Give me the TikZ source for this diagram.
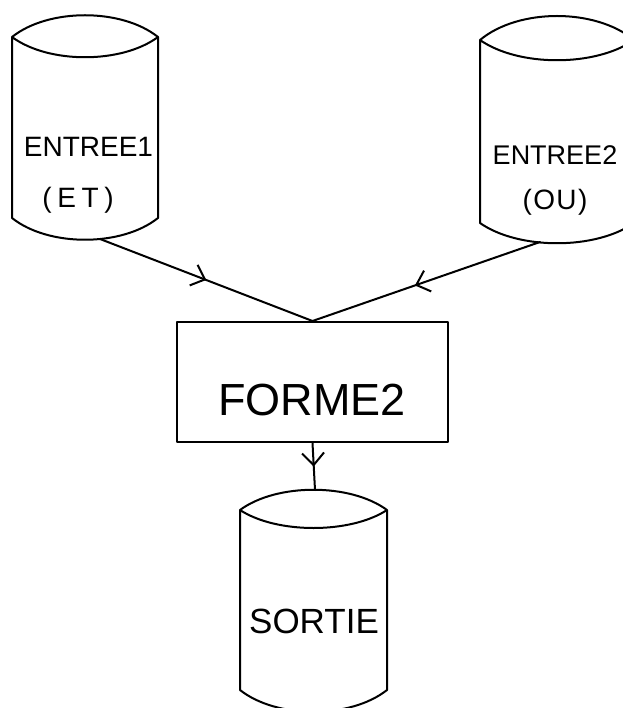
\documentclass[tikz,border=0pt]{standalone}
\usepackage{fontspec}
\setmainfont{Liberation Sans}
\usetikzlibrary{arrows.meta,decorations.markings}
\begin{document}
\begin{tikzpicture}[x=1pt,y=-1pt,line width=2pt,line join=round,line cap=round,
  outline/.style={draw=black,line width=2pt},
  lbl/.style={anchor=base,inner sep=0pt,font=\fontsize{28}{32}\selectfont},
  big/.style={anchor=base,inner sep=0pt,font=\fontsize{45}{50}\selectfont},
  mid/.style={anchor=base,inner sep=0pt,font=\fontsize{35}{40}\selectfont},
  midarrow/.style={postaction={decorate},decoration={markings,
    mark=at position #1 with {\arrow{Straight Barb[length=12pt,width=22pt,line width=2pt]}}}}]
\useasboundingbox (0,0) rectangle (622,708);
% left cylinder ENTREE1
\draw[outline] (12,37) .. controls (48.5,8) and (121.5,8) .. (158,37)
  .. controls (121.5,64) and (48.5,64) .. (12,37) -- (12,218)
  .. controls (48.5,247) and (121.5,247) .. (158,218) -- (158,37);
\node[lbl] (e1) at (88.5,157) {ENTREE1};
\node[lbl] (e1b) at (78,208) {\addfontfeature{LetterSpace=20}(ET)};
% right cylinder ENTREE2
\draw[outline] (480,40) .. controls (518.5,8) and (595.5,8) .. (634,40)
  .. controls (595.5,67) and (518.5,67) .. (480,40) -- (480,223)
  .. controls (518.5,250) and (595.5,250) .. (634,223) -- (634,40);
\node[lbl,font=\fontsize{27}{32}\selectfont] (e2) at (555,165) {ENTREE2};
\node[lbl] (e2b) at (555,210) {\addfontfeature{LetterSpace=5}(OU)};
% bottom cylinder SORTIE
\draw[outline] (240,510) .. controls (276.75,483) and (350.25,483) .. (387,510)
  .. controls (350.25,534) and (276.75,534) .. (240,510) -- (240,690)
  .. controls (276.75,719) and (350.25,719) .. (387,690) -- (387,510);
\node[mid] (s) at (314,633) {SORTIE};
% process box
\node[outline,minimum width=271pt,minimum height=120pt,inner sep=0pt] (f) at (312.5,382) {};
\node[big] (ft) at (312,415) {FORME2};
% connector end points
\coordinate (c1) at (100,239);
\coordinate (c2) at (540,242);
\coordinate (c3) at (315,490);
\draw[midarrow=0.5] (c1) -- (f.north);
\draw[midarrow=0.55] (c2) -- (f.north);
\draw[midarrow=0.5] (f.south) -- (c3);
\end{tikzpicture}
\end{document}
